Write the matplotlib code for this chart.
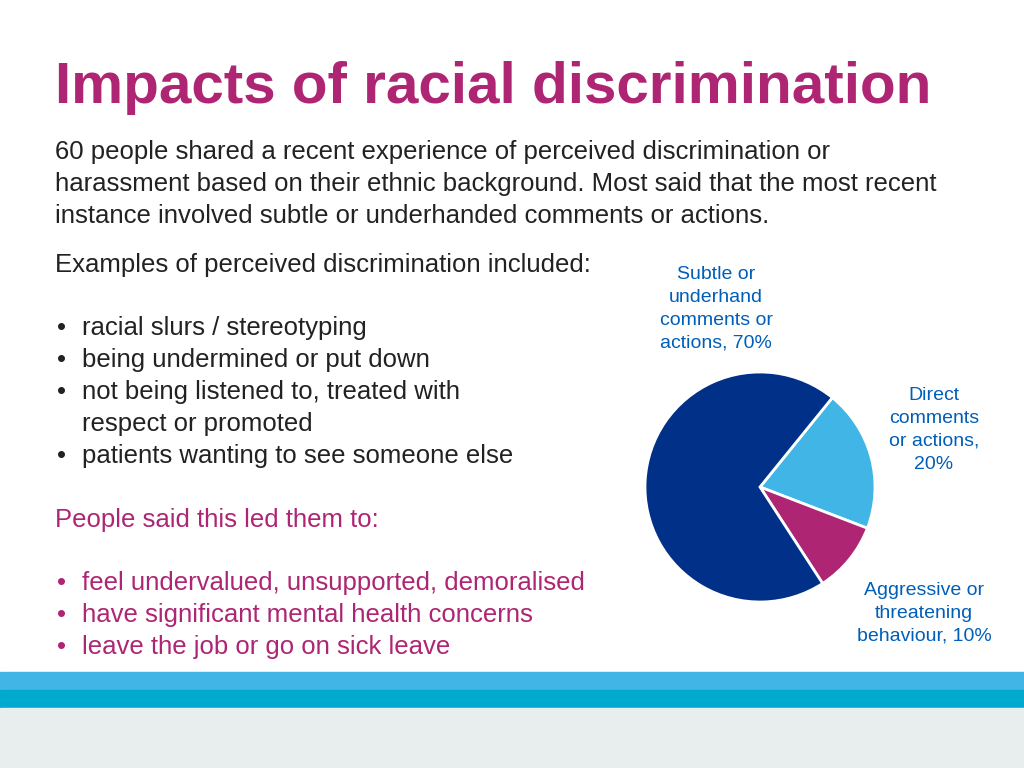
import matplotlib
matplotlib.use("Agg")
import matplotlib.pyplot as plt
from matplotlib.patches import Rectangle

categories = ["Direct\ncomments\nor actions,\n20%", "Aggressive or\nthreatening\nbehaviour, 10%", "Subtle or\nunderhand\ncomments or\nactions, 70%"]
values = [20, 10, 70]
colors = ["#41B6E6", "#AE2573", "#003087"]

MAG = "#AE2573"; BLUE = "#005EB8"
W, H = 1024, 768
fig = plt.figure(figsize=(10.24, 7.68), dpi=100)
fig.patch.set_facecolor("white")
FONT = "Liberation Sans"

def T(x, y, s, size, color="#222222", **kw):
    fig.text(x / W, 1 - y / H, s, fontsize=size, color=color, family=FONT, **kw)

T(55, 88, "Impacts of racial discrimination", 42, MAG, weight="bold", va="center")
body = ["60 people shared a recent experience of perceived discrimination or",
        "harassment based on their ethnic background. Most said that the most recent",
        "instance involved subtle or underhanded comments or actions."]
for i, l in enumerate(body):
    T(55, 152 + 32 * i, l, 18.5, va="center")
T(55, 265, "Examples of perceived discrimination included:", 18.5, va="center")
bul = [("•", "racial slurs / stereotyping"), ("•", "being undermined or put down"),
       ("•", "not being listened to, treated with"), ("", "respect or promoted"),
       ("•", "patients wanting to see someone else")]
for i, (b, l) in enumerate(bul):
    T(57, 328 + 32 * i, b, 18.5, va="center")
    T(82, 328 + 32 * i, l, 18.5, va="center")
T(55, 520, "People said this led them to:", 18.5, MAG, va="center")
bul2 = ["feel undervalued, unsupported, demoralised", "have significant mental health concerns",
        "leave the job or go on sick leave"]
for i, l in enumerate(bul2):
    T(57, 583 + 32 * i, "•", 18.5, MAG, va="center")
    T(82, 583 + 32 * i, l, 18.5, MAG, va="center")

cx, cy, r = 760, 487, 115
ax = fig.add_axes([(cx - r) / W, 1 - (cy + r) / H, 2 * r / W, 2 * r / H])
ax.pie(values, colors=colors, startangle=51, counterclock=False, radius=1,
       wedgeprops=dict(edgecolor="white", linewidth=2))
ax.set_xlim(-1, 1); ax.set_ylim(-1, 1)
ax.set_aspect("equal")
ax.axis("off")

T(716, 309, categories[2], 14, BLUE, ha="center", va="center", linespacing=1.45)
T(934, 430, categories[0], 14, BLUE, ha="center", va="center", linespacing=1.45)
T(924, 613, categories[1], 14, BLUE, ha="center", va="center", linespacing=1.45)

for y0, y1, c in [(672, 690, "#41B6E6"), (690, 708, "#00A9CE"), (708, 768, "#E8EDEE")]:
    fig.add_artist(Rectangle((0, 1 - y1 / H), 1, (y1 - y0) / H, transform=fig.transFigure,
                             color=c, zorder=0))

fig.savefig("out.png", dpi=100)
